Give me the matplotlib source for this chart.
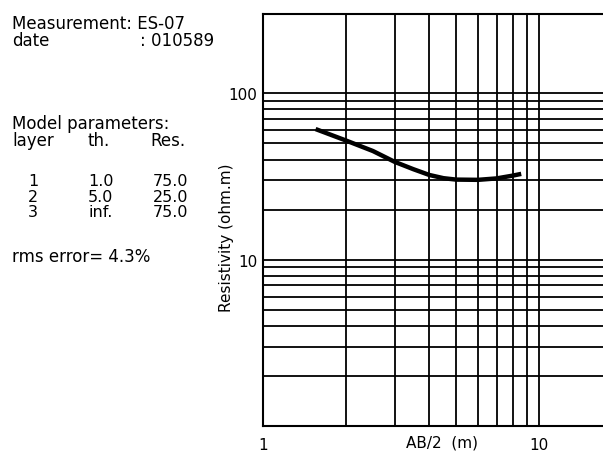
import matplotlib

matplotlib.use("Agg")
import matplotlib.pyplot as plt
from matplotlib.ticker import FixedLocator, NullFormatter

plt.rcParams["font.family"] = ["DejaVu Sans"]

# fitted sounding curve
ab2 = [1.55, 2.0, 2.5, 3.0, 3.5, 4.0, 4.5, 5.0, 6.0, 7.0, 8.0, 8.6]
resistivity = [61, 52, 45, 38.7, 35.0, 32.3, 30.9, 30.3, 30.2, 30.8, 32.0, 32.8]

x_major = [1, 10]
x_minor = [2, 3, 4, 5, 6, 7, 8, 9]
y_major = [10, 100]
y_minor = [2, 3, 4, 5, 6, 7, 8, 9, 20, 30, 40, 50, 60, 70, 80, 90]

layers = ["1", "2", "3"]
thickness = ["1.0", "5.0", "inf."]
res = ["75.0", "25.0", "75.0"]

W, H = 603, 456
fig = plt.figure(figsize=(W / 100, H / 100), dpi=100)

left, right, top, bottom = 263, 603, 15, 427
ax = fig.add_axes([left / W, 1 - bottom / H, (right - left) / W, (bottom - top) / H])
ax.set_xscale("log")
ax.set_yscale("log")
ax.set_xlim(1, 17)
ax.set_ylim(1, 300)

ax.xaxis.set_major_locator(FixedLocator(x_major))
ax.xaxis.set_minor_locator(FixedLocator(x_minor))
ax.yaxis.set_major_locator(FixedLocator(y_major))
ax.yaxis.set_minor_locator(FixedLocator(y_minor))
ax.xaxis.set_minor_formatter(NullFormatter())
ax.yaxis.set_minor_formatter(NullFormatter())
ax.set_xticklabels(["1", "10"])
ax.set_yticklabels(["10", "100"])
ax.tick_params(which="both", length=0, labelsize=11, pad=4)
ax.tick_params(axis="x", pad=8)
ax.grid(which="both", color="black", linewidth=1.3)
for s in ax.spines.values():
    s.set_linewidth(1.5)
ax.spines["right"].set_visible(False)

ax.plot(ab2, resistivity, color="black", linewidth=3.2, solid_capstyle="butt")

ax.text((442 - left) / (right - left), -16 / (bottom - top), "AB/2  (m)",
        transform=ax.transAxes, ha="center", va="center", fontsize=11)
fig.text(226 / W, 1 - 238 / H, "Resistivity (ohm.m)", rotation=90,
         ha="center", va="center", fontsize=11)

# header block on the left
fs = 12
def put(x, y, s, size=fs, **kw):
    fig.text(x / W, 1 - y / H, s, ha="left", va="center", fontsize=size, **kw)

put(12, 24, "Measurement: ES-07")
put(12, 41, "date")
put(140, 41, ": 010589")
put(12, 124, "Model parameters:")
put(12, 141, "layer")
put(88, 141, "th.")
put(150, 141, "Res.")
# layer table: one text block per column, rows 16 px apart
for x, col in [(28, layers), (88, thickness), (153, res)]:
    put(x, 197, "\n".join(col), size=11.5, linespacing=1.04)
put(12, 257, "rms error= 4.3%")

fig.savefig("out.png", dpi=100)
